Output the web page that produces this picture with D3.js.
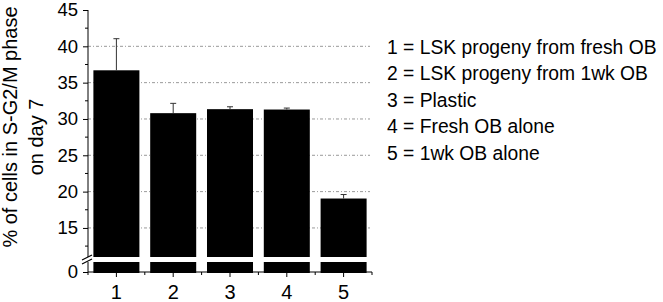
<!DOCTYPE html>
<html><head><meta charset="utf-8">
<script src="https://cdn.jsdelivr.net/npm/d3@7"></script>
<style>body{margin:0;background:#fff;} text{font-family:"Liberation Sans",Arial,sans-serif;}</style>
</head><body>
<svg id="c" width="663" height="302"></svg>
<script>
const categories = ["1","2","3","4","5"];
const values = [36.7, 30.8, 31.35, 31.3, 19.05];
const errors = [4.35, 1.35, 0.33, 0.2, 0.55];
const yTicks = [15,20,25,30,35,40,45];
const gridTicks = [15,20,25,30,35,40];
const minorTicks = [12.5,17.5,22.5,27.5,32.5,37.5,42.5];
const legendLabels = ["1 = LSK progeny from fresh OB","2 = LSK progeny from 1wk OB","3 = Plastic","4 = Fresh OB alone","5 = 1wk OB alone"];
const yTitle = ["% of cells in S-G2/M phase","on day 7"];

const svg = d3.select("#c");
const x0 = 88, x1 = 372, gridEnd = 370;
const x = d3.scaleBand().domain(categories).range([x0, x1]).paddingInner(0.19).paddingOuter(0.095);
const y = d3.scaleLinear().domain([11, 45]).range([257, 10]);
const yLow = d3.scaleLinear().domain([0, 1.4]).range([272, 262]);

// gridlines
svg.append("g").selectAll("line").data(gridTicks).join("line")
  .attr("x1", x0).attr("x2", gridEnd).attr("y1", d=>y(d)).attr("y2", d=>y(d))
  .attr("stroke", "#9a9a9a").attr("stroke-width", 1).attr("stroke-dasharray", "3,2,1,2");

// bars upper
svg.append("g").selectAll("rect").data(values).join("rect")
  .attr("x", (d,i)=>x(categories[i])).attr("width", x.bandwidth())
  .attr("y", d=>y(d)).attr("height", d=>y(11)-y(d)).attr("fill", "#000");
// bars lower
svg.append("g").selectAll("rect").data(values).join("rect")
  .attr("x", (d,i)=>x(categories[i])).attr("width", x.bandwidth())
  .attr("y", yLow(1.4)).attr("height", yLow(0)-yLow(1.4)+1).attr("fill", "#000");

// error bars
const eg = svg.append("g").attr("stroke", "#333").attr("stroke-width", 1);
values.forEach((v,i)=>{
  const cx = x(categories[i]) + x.bandwidth()/2;
  eg.append("line").attr("x1", cx).attr("x2", cx).attr("y1", y(v)).attr("y2", y(v+errors[i]));
  eg.append("line").attr("x1", cx-3).attr("x2", cx+3).attr("y1", y(v+errors[i])).attr("y2", y(v+errors[i]));
});

const FF = "Liberation Sans, Arial, sans-serif";
// y axis upper
const yAxis = d3.axisLeft(y).tickValues(yTicks).tickFormat(d3.format("d")).tickSize(5).tickPadding(5);
const ga = svg.append("g").attr("transform", `translate(${x0},0)`).call(yAxis);
ga.select(".domain").remove();
ga.append("line").attr("x1",0).attr("x2",0).attr("y1",y(45)).attr("y2",y(11)).attr("stroke","#000");
ga.selectAll("text").attr("font-size", 18.5).attr("fill","#000").attr("font-family",FF);
ga.selectAll(".tick line").attr("stroke","#000");
ga.selectAll("line.minor").data(minorTicks).join("line").attr("class","minor")
  .attr("x1",-3).attr("x2",0).attr("y1",d=>y(d)).attr("y2",d=>y(d)).attr("stroke","#000");

// y axis lower
const yAxisLow = d3.axisLeft(yLow).tickValues([0]).tickFormat(d3.format("d")).tickSize(5).tickPadding(5);
const gl = svg.append("g").attr("transform", `translate(${x0},0)`).call(yAxisLow);
gl.select(".domain").remove();
gl.append("line").attr("x1",0).attr("x2",0).attr("y1",yLow(1.4)).attr("y2",yLow(0)).attr("stroke","#000");
gl.selectAll("text").attr("font-size", 18.5).attr("fill","#000").attr("font-family",FF);

// break marks
const bg = svg.append("g").attr("stroke","#000").attr("stroke-width",1.2);
[0,4].forEach(o=>{
  bg.append("line").attr("x1", x0-6).attr("y1", y(11)+3+o).attr("x2", x0+4).attr("y2", y(11)-2+o);
});

// x axis
const xAxis = d3.axisBottom(x).tickSize(5).tickPadding(8);
const gx = svg.append("g").attr("transform", `translate(0,${yLow(0)})`).call(xAxis);
gx.select(".domain").remove();
gx.append("line").attr("x1",x0).attr("x2",x1).attr("y1",0).attr("y2",0).attr("stroke","#000");
gx.selectAll(".tick line").attr("stroke","#000");
gx.selectAll("text").attr("font-size", 20).attr("fill","#000").attr("font-family",FF);
const bounds = categories.map(c=>x(c) - x.step()*x.paddingInner()/2).concat([x1]);
gx.selectAll("line.minor").data(bounds).join("line").attr("class","minor")
  .attr("x1",d=>d).attr("x2",d=>d).attr("y1",0).attr("y2",3).attr("stroke","#000");

// y title
svg.append("text").attr("transform","translate(17,127) rotate(-90)").attr("text-anchor","middle")
  .attr("font-size",20).attr("fill","#000").text(yTitle[0]);
svg.append("text").attr("transform","translate(43,137) rotate(-90)").attr("text-anchor","middle")
  .attr("font-size",20).attr("fill","#000").text(yTitle[1]);

// legend
svg.append("g").selectAll("text").data(legendLabels).join("text")
  .attr("x", 387).attr("y", (d,i)=>53.5 + i*26.5).attr("font-size",19.3).attr("fill","#000").text(d=>d);
</script>
</body></html>
